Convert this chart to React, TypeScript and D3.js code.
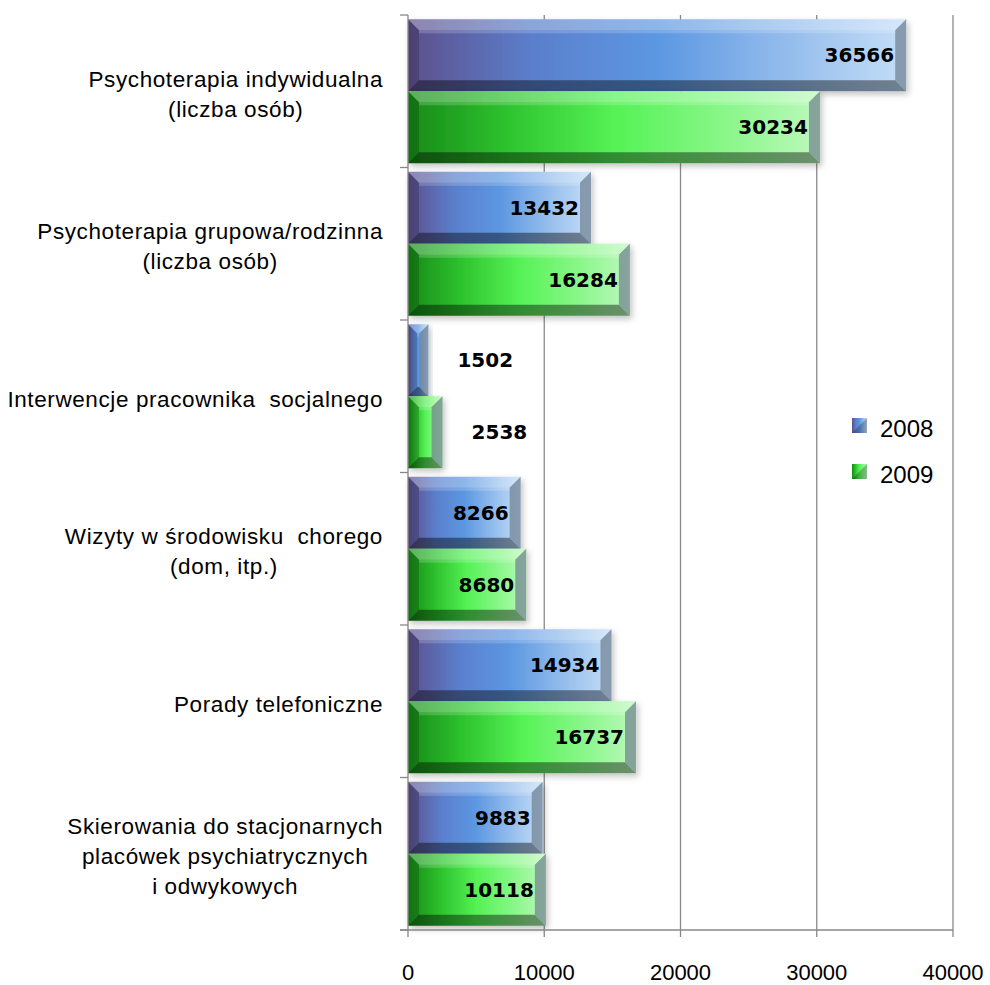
import React, { useEffect, useRef } from "react";
import * as d3 from "d3";

const categories: string[][] = [
  ["Psychoterapia indywidualna", "(liczba osób)"],
  ["Psychoterapia grupowa/rodzinna", "(liczba osób)"],
  ["Interwencje pracownika  socjalnego"],
  ["Wizyty w środowisku  chorego", "(dom, itp.)"],
  ["Porady telefoniczne"],
  ["Skierowania do stacjonarnych", "placówek psychiatrycznych", "i odwykowych"],
];
const seriesNames = ["2008", "2009"];
const values2008 = [36566, 13432, 1502, 8266, 14934, 9883];
const values2009 = [30234, 16284, 2538, 8680, 16737, 10118];
const xTicks = [0, 10000, 20000, 30000, 40000];

const W = 990;
const H = 985;

export default function App() {
  const ref = useRef<SVGSVGElement>(null);

  useEffect(() => {
    const svg = d3.select(ref.current);
    svg.selectAll("*").remove();

    const x = d3.scaleLinear().domain([0, 40000]).range([408, 953]);
    const keys = categories.map((_, i) => String(i));
    const y = d3.scaleBand().domain(keys).range([15, 930]).paddingInner(0).paddingOuter(0);
    const inner = d3.scaleBand().domain(seriesNames).range([0, y.bandwidth()]).paddingOuter(0.06).paddingInner(0);

    const defs = svg.append("defs");
    const grads: Record<string, string[]> = {
      "2008": ["#5d4f8c", "#5a7fcc", "#5c97e2", "#9cc2ee", "#c4def8"],
      "2009": ["#178a17", "#2fc52f", "#55f255", "#8ff78f", "#bdf8bd"],
    };
    seriesNames.forEach((s) => {
      const g = defs.append("linearGradient").attr("id", "g" + s).attr("x1", 0).attr("x2", 1).attr("y1", 0).attr("y2", 0);
      const c = grads[s];
      [0, 0.25, 0.5, 0.8, 1].forEach((o, i) => g.append("stop").attr("offset", o).attr("stop-color", c[i]));
    });
    const f = defs.append("filter").attr("id", "sh").attr("x", -0.1).attr("y", -0.2).attr("width", 1.3).attr("height", 1.5);
    f.append("feDropShadow").attr("dx", 2).attr("dy", 3).attr("stdDeviation", 3).attr("flood-color", "#000").attr("flood-opacity", 0.25);

    // gridlines
    svg.append("g").selectAll("line").data(xTicks.slice(1)).join("line")
      .attr("x1", (d) => x(d)).attr("x2", (d) => x(d)).attr("y1", 15).attr("y2", 930)
      .attr("stroke", "#8a8a8a").attr("stroke-width", 1.3);

    // bars
    const data = categories.map((_, i) => ({ key: String(i), vals: [values2008[i], values2009[i]] }));
    const gBars = svg.append("g");
    data.forEach((row) => {
      row.vals.forEach((v, si) => {
        const s = seriesNames[si];
        const bx = x(0);
        const by = (y(row.key) as number) + (inner(s) as number);
        const bw = x(v) - x(0);
        const bh = inner.bandwidth();
        const g = gBars.append("g");
        g.append("rect").attr("x", bx).attr("y", by).attr("width", bw).attr("height", bh)
          .attr("fill", `url(#g${s})`).attr("filter", "url(#sh)");
        const b = Math.min(11, bw / 2 - 1, bh / 2 - 1);
        const x0 = bx, x1 = bx + bw, y0 = by, y1 = by + bh;
        const poly = (pts: number[][], fill: string, op: number) =>
          g.append("polygon").attr("points", pts.map((p) => p.join(",")).join(" ")).attr("fill", fill).attr("fill-opacity", op);
        poly([[x0, y0], [x1, y0], [x1 - b, y0 + b], [x0 + b, y0 + b]], "#ffffff", 0.3);
        poly([[x0, y0], [x0 + b, y0 + b], [x0 + b, y1 - b], [x0, y1]], "#000000", 0.18);
        poly([[x0, y1], [x0 + b, y1 - b], [x1 - b, y1 - b], [x1, y1]], "#000000", 0.42);
        poly([[x1, y0], [x1, y1], [x1 - b, y1 - b], [x1 - b, y0 + b]], "#6f7f8f", 0.7);
        g.append("rect").attr("x", x0 + b).attr("y", y0 + b).attr("width", Math.max(0, bw - 2 * b)).attr("height", 3)
          .attr("fill", "#ffffff").attr("fill-opacity", 0.18);

        const inside = bw > 80;
        svg.append("text")
          .attr("x", inside ? x1 - 12 : x1 + 29)
          .attr("y", by + bh / 2 + 7)
          .attr("text-anchor", inside ? "end" : "start")
          .attr("font-family", "DejaVu Sans")
          .attr("font-weight", "bold")
          .attr("font-size", 20)
          .attr("fill", "#000")
          .text(String(v));
      });
    });

    // axes
    const axisColor = "#888888";
    svg.append("line").attr("x1", 408).attr("x2", 408).attr("y1", 15).attr("y2", 930).attr("stroke", axisColor).attr("stroke-width", 1.3);
    const catTicks = d3.range(categories.length + 1).map((i) => 15 + i * y.step());
    svg.append("g").selectAll("line").data(catTicks).join("line")
      .attr("x1", 400).attr("x2", 408).attr("y1", (d) => d).attr("y2", (d) => d)
      .attr("stroke", axisColor).attr("stroke-width", 1.3);
    svg.append("line").attr("x1", 400).attr("x2", 953).attr("y1", 930).attr("y2", 930).attr("stroke", axisColor).attr("stroke-width", 1.3);
    svg.append("g").selectAll("line").data(xTicks).join("line")
      .attr("x1", (d) => x(d)).attr("x2", (d) => x(d)).attr("y1", 930).attr("y2", 937)
      .attr("stroke", axisColor).attr("stroke-width", 1.3);
    svg.append("g").selectAll("text").data(xTicks).join("text")
      .attr("x", (d) => x(d)).attr("y", 980).attr("text-anchor", "middle")
      .attr("font-family", "Liberation Sans").attr("font-size", 22).attr("fill", "#000")
      .text((d) => String(d));

    // category labels
    categories.forEach((lines, i) => {
      const cy = (y(String(i)) as number) + y.bandwidth() / 2 + 3;
      const g = svg.append("g");
      const ts = lines.map((ln, j) =>
        g.append("text")
          .attr("y", cy + (j - (lines.length - 1) / 2) * 30 + 7.5)
          .attr("font-family", "Liberation Sans").attr("font-size", 22.5).attr("fill", "#000")
          .attr("letter-spacing", 0.6)
          .attr("text-anchor", "middle").style("white-space", "pre").text(ln)
      );
      const widths = ts.map((t) => (t.node() as SVGTextElement).getComputedTextLength());
      const maxW = Math.max(...widths);
      ts.forEach((t) => t.attr("x", 383 - maxW / 2));
    });

    // legend
    seriesNames.forEach((s, i) => {
      const ly = 418 + i * 46;
      const g = svg.append("g");
      g.append("rect").attr("x", 852).attr("y", ly).attr("width", 15).attr("height", 15).attr("fill", `url(#g${s})`);
      g.append("polygon").attr("points", `852,${ly + 15} 867,${ly} 867,${ly + 15}`).attr("fill", "#000").attr("fill-opacity", 0.25);
      g.append("text").attr("x", 880).attr("y", ly + 19).attr("font-family", "Liberation Sans").attr("font-size", 24).attr("fill", "#000").text(s);
    });
  }, []);

  return (
    <svg ref={ref} width={W} height={H} style={{ position: "absolute", left: 0, top: 0, background: "#fff" }} />
  );
}
